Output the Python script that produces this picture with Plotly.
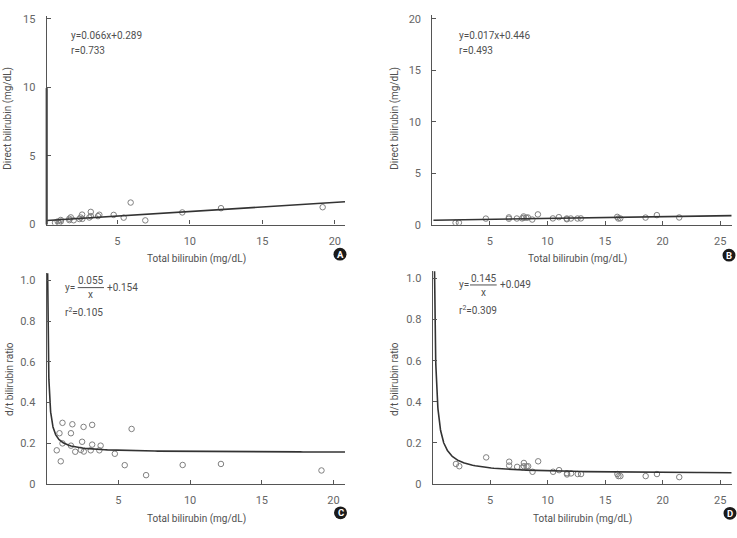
import plotly.graph_objects as go
import numpy as np

W, H = 737, 538

# ---------------- data ----------------
# Group 1 (panels A and C)
total_1 = [0.70, 0.89, 0.98, 1.10, 1.10, 1.69, 1.79, 1.69, 1.99, 2.47, 2.57, 2.38, 2.59,
           3.07, 3.17, 3.17, 3.67, 3.76, 4.75, 5.44, 5.92, 6.93, 9.48, 12.15, 19.16]
direct_1 = [0.12, 0.22, 0.11, 0.33, 0.22, 0.42, 0.52, 0.32, 0.31, 0.51, 0.72, 0.40, 0.41,
            0.51, 0.92, 0.61, 0.61, 0.71, 0.70, 0.50, 1.60, 0.30, 0.88, 1.19, 1.26]
ratio_1 = [0.165, 0.249, 0.111, 0.300, 0.199, 0.249, 0.293, 0.188, 0.158, 0.207, 0.280, 0.167, 0.159,
           0.165, 0.290, 0.193, 0.165, 0.188, 0.148, 0.092, 0.270, 0.043, 0.093, 0.098, 0.066]

# Group 2 (panels B and D)
total_2 = [2.02, 2.31, 4.65, 6.65, 6.65, 7.34, 7.93, 7.93, 8.16, 8.30, 7.80, 8.68, 9.17,
           10.47, 10.99, 11.68, 11.68, 12.03, 12.61, 12.90, 16.06, 16.15, 16.32, 18.52, 19.50, 21.44]
direct_2 = [0.20, 0.20, 0.60, 0.72, 0.59, 0.61, 0.81, 0.68, 0.69, 0.71, 0.62, 0.51, 1.01,
            0.62, 0.74, 0.54, 0.61, 0.61, 0.61, 0.62, 0.77, 0.61, 0.62, 0.70, 0.94, 0.71]
ratio_2 = [0.097, 0.086, 0.129, 0.108, 0.089, 0.083, 0.102, 0.086, 0.085, 0.086, 0.080, 0.059, 0.110,
           0.059, 0.067, 0.046, 0.052, 0.051, 0.048, 0.048, 0.048, 0.038, 0.038, 0.038, 0.048, 0.033]

# fitted equations (printed on chart)
fit_A = (0.066, 0.289)   # linear slope, intercept
fit_B = (0.017, 0.446)
fit_C = (0.055, 0.154)   # a/x + b
fit_D = (0.145, 0.049)

x_title = "Total bilirubin (mg/dL)"
y_title_top = "Direct bilirubin (mg/dL)"
y_title_bot = "d/t bilirubin ratio"
panel_letters = ["A", "B", "C", "D"]

# ---------------- helpers ----------------
def px(x):
    return x / W

def py(y):
    return 1 - y / H

FONT = "Roboto"
TICK_C = "#666666"
TXT_C = "#505050"
AX_C = "#555555"
PT_C = "#808080"
LINE_C = "#333333"

fig = go.Figure()

marker = dict(symbol="circle-open", size=5.5, color=PT_C, line=dict(width=1, color=PT_C))

# A
fig.add_trace(go.Scatter(x=total_1, y=direct_1, mode="markers", marker=marker, xaxis="x", yaxis="y"))
xa = np.array([0.13, 20.7])
fig.add_trace(go.Scatter(x=xa, y=fit_A[0] * xa + fit_A[1], mode="lines",
                         line=dict(color=LINE_C, width=1.6), xaxis="x", yaxis="y"))
# B
fig.add_trace(go.Scatter(x=total_2, y=direct_2, mode="markers", marker=marker, xaxis="x2", yaxis="y2"))
xb = np.array([0.1, 26.0])
fig.add_trace(go.Scatter(x=xb, y=fit_B[0] * xb + fit_B[1], mode="lines",
                         line=dict(color=LINE_C, width=1.6), xaxis="x2", yaxis="y2"))
# C
fig.add_trace(go.Scatter(x=total_1, y=ratio_1, mode="markers", marker=marker, xaxis="x3", yaxis="y3"))
xc = np.concatenate([np.linspace(0.06, 1.5, 200), np.linspace(1.5, 20.8, 100)])
fig.add_trace(go.Scatter(x=xc, y=fit_C[0] / xc + fit_C[1], mode="lines",
                         line=dict(color=LINE_C, width=1.6), xaxis="x3", yaxis="y3"))
# D
fig.add_trace(go.Scatter(x=total_2, y=ratio_2, mode="markers", marker=marker, xaxis="x4", yaxis="y4"))
xd = np.concatenate([np.linspace(0.13, 3.0, 200), np.linspace(3.0, 26.0, 100)])
fig.add_trace(go.Scatter(x=xd, y=fit_D[0] / xd + fit_D[1], mode="lines",
                         line=dict(color=LINE_C, width=1.6), xaxis="x4", yaxis="y4"))


def xaxis(dom, rng, tickvals, anchor):
    return dict(domain=dom, range=rng, anchor=anchor, showline=True, linecolor=AX_C, linewidth=1.2,
                ticks="inside", ticklen=4, tickcolor=AX_C, tickvals=tickvals,
                showgrid=False, zeroline=False, tickfont=dict(family=FONT, size=11, color=TICK_C),
                ticklabelstandoff=6)


def yaxis(dom, rng, tickvals, ticktext, anchor):
    return dict(domain=dom, range=rng, anchor=anchor, showline=True, linecolor=AX_C, linewidth=1.2,
                ticks="inside", ticklen=4, tickcolor=AX_C, tickvals=tickvals, ticktext=ticktext,
                showgrid=False, zeroline=False, tickfont=dict(family=FONT, size=11, color=TICK_C),
                ticklabelstandoff=8)


ratio_ticks = [0, 0.2, 0.4, 0.6, 0.8, 1.0]
ratio_text = ["0", "0.2", "0.4", "0.6", "0.8", "1.0"]

fig.update_layout(
    width=W, height=H, margin=dict(l=0, r=0, t=0, b=0),
    paper_bgcolor="white", plot_bgcolor="white", showlegend=False,
    font=dict(family=FONT, size=10, color=TXT_C),
    xaxis=xaxis([px(46.7), px(345)], [0.13, 20.7], [5, 10, 15, 20], "y"),
    yaxis=yaxis([py(225.7), py(13.2)], [0, 15.2], [0, 5, 10, 15], ["0", "5", "10", "15"], "x"),
    xaxis2=xaxis([px(432.3), px(731.7)], [0, 26], [5, 10, 15, 20, 25], "y2"),
    yaxis2=yaxis([py(226), py(11.8)], [0, 20.4], [0, 5, 10, 15, 20], ["0", "5", "10", "15", "20"], "x2"),
    xaxis3=xaxis([px(46.7), px(345)], [0, 20.8], [5, 10, 15, 20], "y3"),
    yaxis3=yaxis([py(490), py(275.4)], [0, 1.035], ratio_ticks, ratio_text, "x3"),
    xaxis4=xaxis([px(432.7), px(731.7)], [0, 26], [5, 10, 15, 20, 25], "y4"),
    yaxis4=yaxis([py(490), py(273.4)], [0, 1.035], ratio_ticks, ratio_text, "x4"),
)

ann = []
shapes = []


def text(x, y, s, xanchor="left", size=10, color=TXT_C, angle=0, weight="normal"):
    ann.append(dict(x=px(x), y=py(y), xref="paper", yref="paper", text=s, showarrow=False,
                    xanchor=xanchor, yanchor="middle", textangle=angle,
                    font=dict(family=FONT, size=size, color=color, weight=weight)))


# axis titles
text(196.7, 261, x_title, "center")
text(577.7, 261, x_title, "center")
text(196.7, 526, x_title, "center")
text(582.3, 526, x_title, "center")
text(8, 118, y_title_top, "center", angle=-90)
text(395, 118, y_title_top, "center", angle=-90)
text(10, 383, y_title_bot, "center", angle=-90)
text(395, 383, y_title_bot, "center", angle=-90)

# equations
text(69, 33.3, "y=0.066x+0.289")
text(69, 48.3, "r=0.733")
text(457, 33.3, "y=0.017x+0.446")
text(457, 48.3, "r=0.493")

# C fraction
text(63.3, 290, "y=")
text(90.8, 283, "0.055", "center")
text(90.8, 297, "x", "center")
text(105.5, 290, "+0.154")
text(63.3, 315, "r<sup>2</sup>=0.105")
shapes.append(dict(type="line", xref="paper", yref="paper", x0=px(77.7), x1=px(104),
                   y0=py(290), y1=py(290), line=dict(color=TXT_C, width=1)))
# D fraction
text(457.3, 287.3, "y=")
text(483.3, 280.5, "0.145", "center")
text(483.3, 294.5, "x", "center")
text(498, 287.3, "+0.049")
text(457.3, 313.3, "r<sup>2</sup>=0.309")
shapes.append(dict(type="line", xref="paper", yref="paper", x0=px(470), x1=px(496.7),
                   y0=py(287.3), y1=py(287.3), line=dict(color=TXT_C, width=1)))

# thicker part of panel A's y axis
shapes.append(dict(type="line", xref="paper", yref="paper", x0=px(46.7), x1=px(46.7),
                   y0=py(86.7), y1=py(225.7), line=dict(color="#444444", width=2.2)))

# panel letters
centers = [(340, 256), (729, 257), (340.5, 519.5), (730, 520)]
for (cx, cy), lab in zip(centers, panel_letters):
    r = 6.5
    shapes.append(dict(type="circle", xref="paper", yref="paper", x0=px(cx - r), x1=px(cx + r),
                       y0=py(cy + r), y1=py(cy - r), fillcolor="#1a1a1a", line=dict(width=0)))
    text(cx, cy, lab, "center", size=9.5, color="white", weight="bold")

fig.update_layout(annotations=ann, shapes=shapes)
fig.write_html("out.html")
